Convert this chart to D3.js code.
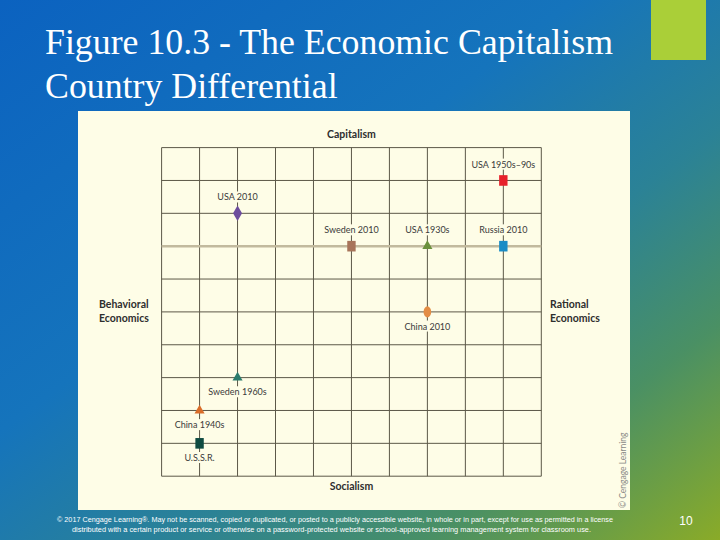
<!DOCTYPE html>
<html>
<head>
<meta charset="utf-8">
<script src="https://cdn.jsdelivr.net/npm/d3@7"></script>
<style>
  html, body { margin: 0; padding: 0; overflow: hidden; }
  svg { display: block; }
</style>
</head>
<body>
<div id="slide"></div>
<script>
// data (x: behavioral -> rational, y: socialism -> capitalism)
const countries = ["USA 1950s\u201390s", "USA 2010", "Sweden 2010", "USA 1930s", "Russia 2010",
  "China 2010", "Sweden 1960s", "China 1940s", "U.S.S.R."];
const rationalScore = [9, 2, 5, 7, 9, 7, 2, 1, 1];
const capitalismScore = [9, 8, 7, 7, 7, 5, 3, 2, 1];
const markerKinds = ["square", "diamond", "square", "triangle", "square", "lens", "triangle", "triangle", "square"];
const gridTicks = [0, 1, 2, 3, 4, 5, 6, 7, 8, 9, 10];
const highlightRow = 7;

const titleLines = ["Figure 10.3 - The Economic Capitalism", "Country Differential"];
const axisTop = "Capitalism";
const axisBottom = "Socialism";
const axisLeft = ["Behavioral", "Economics"];
const axisRight = ["Rational", "Economics"];
const footerLines = [
  "\u00a9 2017 Cengage Learning\u00ae. May not be scanned, copied or duplicated, or posted to a publicly accessible website, in whole or in part, except for use as permitted in a license",
  "distributed with a certain product or service or otherwise on a password-protected website or school-approved learning management system for classroom use."
];
const pageNumber = "10";

const markerColors = ["#e7212b", "#6d4d9d", "#a8745a", "#6b903c", "#1a8cc6", "#e38d45", "#2b7c6c", "#d96d2a", "#0f4b41"];

const width = 720, height = 540;
const svg = d3.select('#slide').append('svg')
  .attr('width', width)
  .attr('height', height);

// slide background
const defs = svg.append('defs');
const grad = defs.append('linearGradient')
  .attr('id', 'bg')
  .attr('x1', 0).attr('y1', 0).attr('x2', 1).attr('y2', 1);
grad.append('stop').attr('offset', 0).attr('stop-color', '#0b62c0');
grad.append('stop').attr('offset', 0.4).attr('stop-color', '#1574bc');
grad.append('stop').attr('offset', 0.62).attr('stop-color', '#2b8296');
grad.append('stop').attr('offset', 0.8).attr('stop-color', '#4a9064');
grad.append('stop').attr('offset', 1).attr('stop-color', '#8aab28');
svg.append('rect').attr('width', width).attr('height', height).attr('fill', 'url(#bg)');

svg.append('rect')
  .attr('x', 651).attr('y', 0).attr('width', 55).attr('height', 60)
  .attr('fill', '#aacf38');

svg.append('g').selectAll('text')
  .data(titleLines)
  .enter().append('text')
  .attr('x', 45)
  .attr('y', (d, i) => 54 + i * 44)
  .attr('fill', '#ffffff')
  .attr('font-family', '"Liberation Serif", "Times New Roman", serif')
  .attr('font-size', 35.8)
  .text(d => d);

// figure panel
svg.append('rect')
  .attr('x', 78).attr('y', 111).attr('width', 552).attr('height', 399)
  .attr('fill', '#fefde7');

const x = d3.scaleLinear().domain([0, 10]).range([161.6, 541.3]);
const y = d3.scaleLinear().domain([0, 10]).range([476.2, 147.6]);

const grid = svg.append('g');
grid.selectAll('.vline')
  .data(gridTicks)
  .enter().append('line')
  .attr('class', 'vline')
  .attr('x1', d => x(d)).attr('x2', d => x(d))
  .attr('y1', y(0)).attr('y2', y(10))
  .attr('stroke', '#5c5848')
  .attr('stroke-width', 1);
grid.selectAll('.hline')
  .data(gridTicks)
  .enter().append('line')
  .attr('class', 'hline')
  .attr('x1', x(0)).attr('x2', x(10))
  .attr('y1', d => y(d)).attr('y2', d => y(d))
  .attr('stroke', d => d === highlightRow ? '#c2ba9e' : '#5c5848')
  .attr('stroke-width', d => d === highlightRow ? 2.6 : 1);

const sans = 'Lato, "Open Sans", sans-serif';

// axis captions
const cx = (x(0) + x(10)) / 2;
svg.append('text').attr('x', cx).attr('y', 138)
  .attr('text-anchor', 'middle').attr('font-family', sans).attr('font-weight', 'bold')
  .attr('font-size', 10.5).attr('fill', '#2e2e2e').text(axisTop);
svg.append('text').attr('x', cx).attr('y', 490)
  .attr('text-anchor', 'middle').attr('font-family', sans).attr('font-weight', 'bold')
  .attr('font-size', 10.5).attr('fill', '#2e2e2e').text(axisBottom);
svg.append('g').selectAll('text')
  .data(axisLeft).enter().append('text')
  .attr('x', 99).attr('y', (d, i) => 308 + i * 13.5)
  .attr('font-family', sans).attr('font-weight', 'bold')
  .attr('font-size', 10.5).attr('fill', '#2e2e2e').text(d => d);
svg.append('g').selectAll('text')
  .data(axisRight).enter().append('text')
  .attr('x', 550).attr('y', (d, i) => 308 + i * 13.5)
  .attr('font-family', sans).attr('font-weight', 'bold')
  .attr('font-size', 10.5).attr('fill', '#2e2e2e').text(d => d);

// points
const points = countries.map((name, i) => ({
  name: name,
  rx: rationalScore[i],
  cy: capitalismScore[i],
  kind: markerKinds[i],
  color: markerColors[i]
}));

const labelG = svg.append('g');
points.forEach(p => {
  const px = x(p.rx), py = y(p.cy);
  const below = p.cy <= 5;
  const ly = below ? py + 14.5 : py - 16;
  const t = labelG.append('text')
    .attr('x', px).attr('y', ly)
    .attr('dy', '0.35em')
    .attr('text-anchor', 'middle')
    .attr('font-family', sans)
    .attr('font-size', 9)
    .attr('fill', '#3a3a3a')
    .text(p.name);
  const bb = t.node().getBBox();
  labelG.insert('rect', () => t.node())
    .attr('x', bb.x - 1).attr('y', bb.y)
    .attr('width', bb.width + 2).attr('height', bb.height)
    .attr('fill', '#fefde7');
});

const markG = svg.append('g');
points.forEach(p => {
  const px = x(p.rx), py = y(p.cy);
  if (p.kind === 'square') {
    markG.append('rect')
      .attr('x', px - 4.2).attr('y', py - 5.3)
      .attr('width', 8.4).attr('height', 10.6)
      .attr('fill', p.color);
  } else if (p.kind === 'lens') {
    markG.append('ellipse')
      .attr('cx', px).attr('cy', py)
      .attr('rx', 3.8).attr('ry', 5.6)
      .attr('fill', p.color);
  } else {
    const sym = p.kind === 'diamond' ? d3.symbolDiamond : d3.symbolTriangle;
    markG.append('path')
      .attr('transform', `translate(${px},${py})`)
      .attr('d', d3.symbol().type(sym).size(p.kind === 'diamond' ? 70 : 44)())
      .attr('fill', p.color);
  }
});

// credit line inside the panel
svg.append('text')
  .attr('transform', 'translate(626,508) rotate(-90)')
  .attr('font-family', sans)
  .attr('font-size', 8.5)
  .attr('fill', '#8a8a86')
  .text('\u00a9 Cengage Learning');

// footer
svg.append('g').selectAll('text')
  .data(footerLines).enter().append('text')
  .attr('x', (d, i) => i === 0 ? 57 : 72)
  .attr('y', (d, i) => 522 + i * 10)
  .attr('textLength', (d, i) => i === 0 ? 556 : 519)
  .attr('lengthAdjust', 'spacingAndGlyphs')
  .attr('font-family', '"Liberation Sans", Arial, sans-serif')
  .attr('font-size', 6.6)
  .attr('fill', '#ffffff')
  .text(d => d);

svg.append('text')
  .attr('x', 686).attr('y', 525)
  .attr('text-anchor', 'middle')
  .attr('font-family', '"Liberation Sans", Arial, sans-serif')
  .attr('font-size', 12)
  .attr('fill', '#ffffff')
  .text(pageNumber);
</script>
</body>
</html>
